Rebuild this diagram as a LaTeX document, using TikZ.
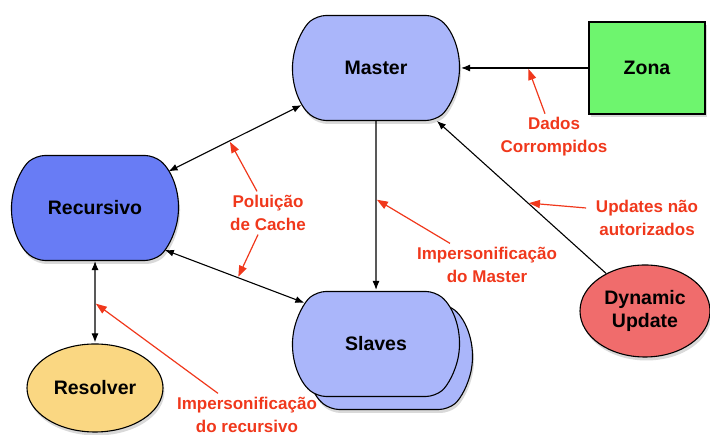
\documentclass[tikz,border=0pt]{standalone}
\usepackage{fontspec}
\setmainfont{Liberation Sans}
\usetikzlibrary{positioning,arrows.meta,shapes.misc,shapes.geometric,shadows}

\definecolor{mastercol}{RGB}{170,182,250}
\definecolor{reccol}{RGB}{104,124,245}
\definecolor{zonacol}{RGB}{110,245,110}
\definecolor{rescol}{RGB}{250,215,130}
\definecolor{dyncol}{RGB}{240,108,108}
\definecolor{warn}{RGB}{240,56,28}

\tikzset{
  server/.style={rounded rectangle, rounded rectangle arc length=100, draw, rounded corners=9pt,
    minimum width=167pt, minimum height=105pt, inner sep=0pt, fill=mastercol,
    font=\bfseries\fontsize{19.5}{22}\selectfont},
  shade/.style={drop shadow={opacity=0.3, shadow xshift=1.5pt, shadow yshift=-3.5pt}},
  note/.style={text=warn, align=center, font=\bfseries\fontsize{17}{23}\selectfont},
  warnarrow/.style={draw=warn, line width=1.2pt, -{Triangle[length=11pt,width=8pt]}},
}

\begin{document}
\begin{tikzpicture}[x=1pt, y=1pt, on grid, line width=1.1pt,
    >={Latex[length=9pt,width=7pt]}, shorten >=1pt]
    \useasboundingbox (0,0) rectangle (710,435);

    % servidores
    \node[server, shade] (master) at (376,367) {Master};
    \node[server, fill=reccol, shade] (rec) [below left=140pt and 281pt of master] {Recursivo};
    \node[server, shade] (slavesback) [below=289pt of master, xshift=13pt] {};
    \node[server] (slaves) [below=276pt of master] {Slaves};
    \node[rectangle, draw, fill=zonacol, shade, minimum width=116pt, minimum height=92pt,
      font=\bfseries\fontsize{19.5}{22}\selectfont] (zona) [right=271pt of master] {Zona};
    \node[ellipse, draw, fill=rescol, shade, minimum width=136pt, minimum height=88pt,
      font=\bfseries\fontsize{19.5}{22}\selectfont] (resolver) [below=180pt of rec] {Resolver};
    \node[ellipse, draw, fill=dyncol, shade, minimum width=130pt, minimum height=92pt, align=center,
      font=\bfseries\fontsize{19.5}{23}\selectfont] (dyn) [below=243pt of zona, xshift=-2pt] {Dynamic\\Update};

    \path[->]
     (zona) edge node[coordinate, pos=0.47] (pdados) {} (master)
     (rec) edge [<->] node[coordinate, pos=0.455] (ppol1) {} (master)
     (rec.-31) edge [<->] node[coordinate, pos=0.52] (ppol2) {} (slaves.150)
     (master) edge node[coordinate, pos=0.46] (pimaster) {} (slaves)
     (dyn.136) edge node[coordinate, pos=0.46] (pupd) {} (master.-41)
     (rec) edge [<->] node[coordinate, pos=0.51] (pirec) {} (resolver);

    % ataques
    \node[note] (dados) at (554,298) {Dados\\Corrompidos};
    \node[note] (upd) at (647,217) {Updates não\\autorizados};
    \node[note] (pol) at (268,222) {Poluição\\de Cache};
    \node[note] (imaster) at (487,170) {Impersonificação\\do Master};
    \node[note] (irec) at (247,20) {Impersonificação\\do recursivo};

    \draw[warnarrow] ([xshift=-9pt]dados.north) -- (pdados);
    \draw[warnarrow] ([xshift=-6pt, yshift=10pt]upd.west) -- (pupd);
    \draw[warnarrow] ([xshift=-11pt]pol.north) -- (ppol1);
    \draw[warnarrow] ([xshift=-10pt]pol.south) -- (ppol2);
    \draw[warnarrow] ([xshift=-37pt]imaster.north) -- (pimaster);
    \draw[warnarrow] ([xshift=-29pt]irec.north) -- (pirec);
\end{tikzpicture}
\end{document}
